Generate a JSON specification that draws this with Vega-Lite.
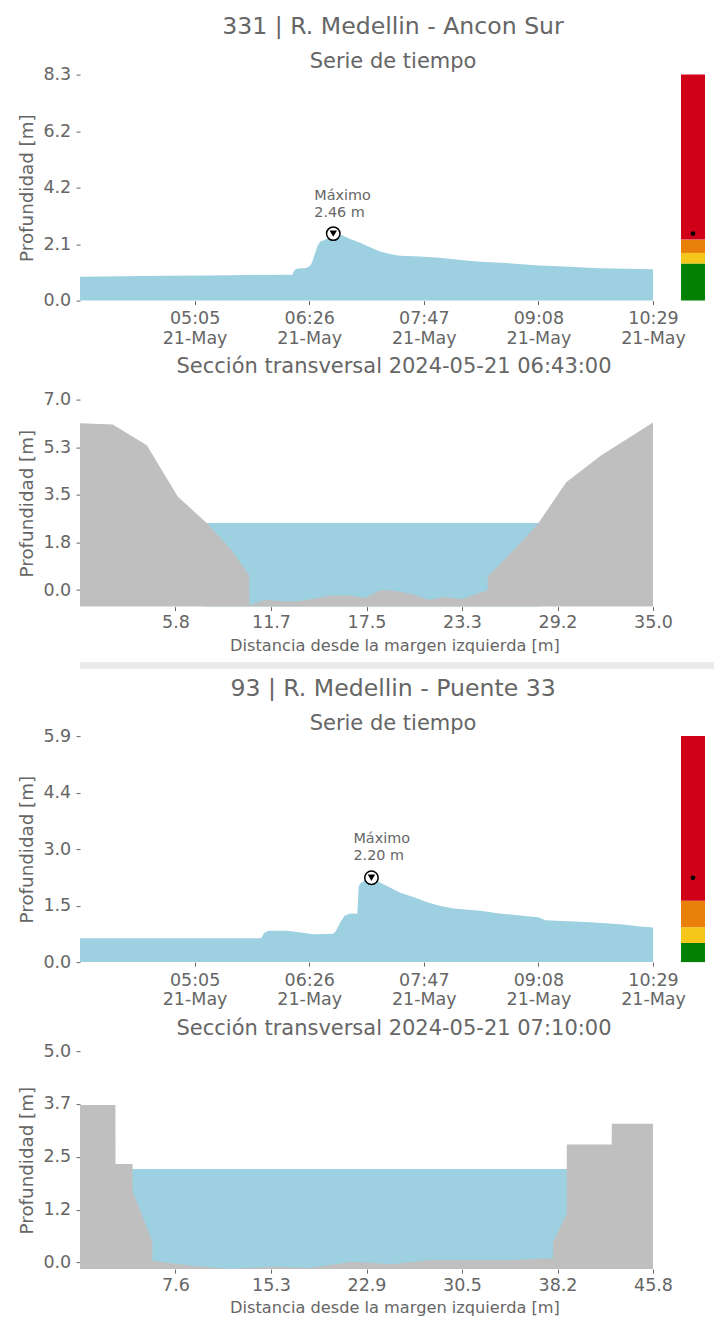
{
  "$schema": "https://vega.github.io/schema/vega-lite/v6.json",
  "background": "white",
  "padding": {"left": 17, "top": 14.6, "right": 0, "bottom": 0},
  "config": {
    "font": "DejaVu Sans",
    "view": {"stroke": null},
    "axis": {"domain": false, "grid": false, "tickColor": "#666", "tickSize": 4, "labelColor": "#666", "labelFontSize": 17.5, "labelFont": "DejaVu Sans", "titleFont": "DejaVu Sans", "titleColor": "#666", "titleFontWeight": "normal", "labelFlush": false, "labelOverlap": false, "labelBound": false},
    "axisY": {"labelPadding": 5.3, "titleFontSize": 18.3, "titlePadding": 6.8},
    "axisX": {"labelPadding": 5, "titleFontSize": 16.2},
    "title": {"color": "#666", "fontWeight": "normal", "font": "DejaVu Sans", "subtitleColor": "#666", "subtitleFont": "DejaVu Sans"}
  },
  "datasets": {
    "ts1": [
      {"t": "2024-05-21T03:44:00Z", "d": 0.88}, {"t": "2024-05-21T04:15:00Z", "d": 0.89}, {"t": "2024-05-21T04:45:00Z", "d": 0.91},
      {"t": "2024-05-21T05:15:00Z", "d": 0.92}, {"t": "2024-05-21T05:45:00Z", "d": 0.94}, {"t": "2024-05-21T06:14:00Z", "d": 0.95},
      {"t": "2024-05-21T06:16:00Z", "d": 1.14}, {"t": "2024-05-21T06:18:00Z", "d": 1.18}, {"t": "2024-05-21T06:24:00Z", "d": 1.20},
      {"t": "2024-05-21T06:27:00Z", "d": 1.30}, {"t": "2024-05-21T06:28:00Z", "d": 1.41}, {"t": "2024-05-21T06:30:00Z", "d": 1.71},
      {"t": "2024-05-21T06:32:00Z", "d": 2.02}, {"t": "2024-05-21T06:34:00Z", "d": 2.18}, {"t": "2024-05-21T06:37:00Z", "d": 2.23},
      {"t": "2024-05-21T06:41:00Z", "d": 2.33}, {"t": "2024-05-21T06:43:00Z", "d": 2.46}, {"t": "2024-05-21T06:48:00Z", "d": 2.43},
      {"t": "2024-05-21T06:55:00Z", "d": 2.26}, {"t": "2024-05-21T07:02:00Z", "d": 2.12}, {"t": "2024-05-21T07:09:00Z", "d": 1.96},
      {"t": "2024-05-21T07:16:00Z", "d": 1.80}, {"t": "2024-05-21T07:23:00Z", "d": 1.71}, {"t": "2024-05-21T07:30:00Z", "d": 1.65},
      {"t": "2024-05-21T07:44:00Z", "d": 1.62}, {"t": "2024-05-21T07:58:00Z", "d": 1.57}, {"t": "2024-05-21T08:13:00Z", "d": 1.49},
      {"t": "2024-05-21T08:27:00Z", "d": 1.43}, {"t": "2024-05-21T08:45:00Z", "d": 1.38}, {"t": "2024-05-21T09:09:00Z", "d": 1.29},
      {"t": "2024-05-21T09:30:00Z", "d": 1.24}, {"t": "2024-05-21T09:51:00Z", "d": 1.19}, {"t": "2024-05-21T10:10:00Z", "d": 1.17},
      {"t": "2024-05-21T10:29:00Z", "d": 1.15}
    ],
    "ts2": [
      {"t": "2024-05-21T03:44:00Z", "d": 0.62}, {"t": "2024-05-21T04:30:00Z", "d": 0.62}, {"t": "2024-05-21T05:15:00Z", "d": 0.62},
      {"t": "2024-05-21T05:52:00Z", "d": 0.62}, {"t": "2024-05-21T05:54:00Z", "d": 0.75}, {"t": "2024-05-21T05:57:00Z", "d": 0.82},
      {"t": "2024-05-21T06:10:00Z", "d": 0.82}, {"t": "2024-05-21T06:19:00Z", "d": 0.78}, {"t": "2024-05-21T06:29:00Z", "d": 0.73},
      {"t": "2024-05-21T06:43:00Z", "d": 0.74}, {"t": "2024-05-21T06:45:00Z", "d": 0.82}, {"t": "2024-05-21T06:48:00Z", "d": 1.04},
      {"t": "2024-05-21T06:51:00Z", "d": 1.21}, {"t": "2024-05-21T06:55:00Z", "d": 1.27}, {"t": "2024-05-21T07:00:00Z", "d": 1.26},
      {"t": "2024-05-21T07:01:00Z", "d": 1.99}, {"t": "2024-05-21T07:03:00Z", "d": 2.08}, {"t": "2024-05-21T07:10:00Z", "d": 2.20},
      {"t": "2024-05-21T07:16:00Z", "d": 2.08}, {"t": "2024-05-21T07:23:00Z", "d": 1.95}, {"t": "2024-05-21T07:30:00Z", "d": 1.82},
      {"t": "2024-05-21T07:40:00Z", "d": 1.69}, {"t": "2024-05-21T07:49:00Z", "d": 1.57}, {"t": "2024-05-21T07:58:00Z", "d": 1.47},
      {"t": "2024-05-21T08:08:00Z", "d": 1.40}, {"t": "2024-05-21T08:27:00Z", "d": 1.34}, {"t": "2024-05-21T08:40:00Z", "d": 1.27},
      {"t": "2024-05-21T09:00:00Z", "d": 1.20}, {"t": "2024-05-21T09:08:00Z", "d": 1.17}, {"t": "2024-05-21T09:13:00Z", "d": 1.09},
      {"t": "2024-05-21T09:45:00Z", "d": 1.04}, {"t": "2024-05-21T10:08:00Z", "d": 0.98}, {"t": "2024-05-21T10:20:00Z", "d": 0.93},
      {"t": "2024-05-21T10:29:00Z", "d": 0.90}
    ],
    "mx1": [{"t": "2024-05-21T06:43:00Z", "d": 2.46, "label": "Máximo\n2.46 m"}],
    "mx2": [{"t": "2024-05-21T07:10:00Z", "d": 2.20, "label": "Máximo\n2.20 m"}],
    "lv1": [
      {"nivel": "verde", "lo": 0, "hi": 1.36}, {"nivel": "amarillo", "lo": 1.36, "hi": 1.75},
      {"nivel": "naranja", "lo": 1.75, "hi": 2.24}, {"nivel": "rojo", "lo": 2.24, "hi": 8.3}
    ],
    "lv2": [
      {"nivel": "verde", "lo": 0, "hi": 0.50}, {"nivel": "amarillo", "lo": 0.50, "hi": 0.91},
      {"nivel": "naranja", "lo": 0.91, "hi": 1.60}, {"nivel": "rojo", "lo": 1.60, "hi": 5.9}
    ],
    "xg1": [
      {"x": 0, "y": 6.13}, {"x": 2.0, "y": 6.08}, {"x": 4.08, "y": 5.32}, {"x": 5.97, "y": 3.44}, {"x": 7.8, "y": 2.43},
      {"x": 9.2, "y": 1.51}, {"x": 10.34, "y": 0.54}, {"x": 10.35, "y": -0.56}, {"x": 11.32, "y": -0.36}, {"x": 12.3, "y": -0.41},
      {"x": 13.3, "y": -0.41}, {"x": 15.4, "y": -0.2}, {"x": 16.5, "y": -0.2}, {"x": 17.4, "y": -0.29}, {"x": 18.4, "y": 0.01},
      {"x": 19.4, "y": -0.05}, {"x": 20.3, "y": -0.16}, {"x": 21.3, "y": -0.36}, {"x": 22.3, "y": -0.26}, {"x": 23.3, "y": -0.34},
      {"x": 24.9, "y": -0.01}, {"x": 24.91, "y": 0.5}, {"x": 26.5, "y": 1.48}, {"x": 27.96, "y": 2.43}, {"x": 29.7, "y": 3.96},
      {"x": 31.8, "y": 4.94}, {"x": 35.0, "y": 6.16}
    ],
    "xw1": [{"x": 7.6, "y": 2.46}, {"x": 28.1, "y": 2.46}],
    "xg2": [
      {"x": 0, "y": 3.71}, {"x": 2.83, "y": 3.71}, {"x": 2.84, "y": 2.32}, {"x": 4.2, "y": 2.32}, {"x": 4.21, "y": 1.67},
      {"x": 5.78, "y": 0.49}, {"x": 5.79, "y": 0.04}, {"x": 9.1, "y": -0.08}, {"x": 12.05, "y": -0.15}, {"x": 15.4, "y": -0.1},
      {"x": 18.3, "y": -0.13}, {"x": 21.8, "y": 0.02}, {"x": 24.96, "y": -0.04}, {"x": 28.1, "y": 0.06}, {"x": 31.2, "y": 0.06},
      {"x": 34.6, "y": 0.06}, {"x": 37.8, "y": 0.1}, {"x": 37.81, "y": 0.48}, {"x": 38.9, "y": 1.15}, {"x": 38.91, "y": 2.78},
      {"x": 42.5, "y": 2.78}, {"x": 42.51, "y": 3.27}, {"x": 45.8, "y": 3.27}
    ],
    "xw2": [{"x": 4.0, "y": 2.20}, {"x": 39.0, "y": 2.20}]
  },
  "align": "none",
  "spacing": 6.5,
  "vconcat": [
    {
      "align": "none",
      "spacing": 8.3,
      "vconcat": [
        {
          "spacing": 9,
          "vconcat": [
            {
              "title": {"text": "331 | R. Medellin - Ancon Sur", "subtitle": "Serie de tiempo", "fontSize": 23.6, "subtitleFontSize": 21, "anchor": "middle", "offset": -6.5, "subtitlePadding": 12, "dx": 32},
              "spacing": 28,
              "bounds": "flush",
              "hconcat": [
                {
                  "width": 573, "height": 226,
                  "layer": [
                    {
                      "data": {"name": "ts1"},
                      "mark": {"type": "area", "color": "#9dd0e0", "opacity": 1},
                      "encoding": {
                        "x": {"field": "t", "type": "temporal", "title": null,
                          "scale": {"type": "utc", "domain": [{"year": 2024, "month": 5, "date": 21, "hours": 3, "minutes": 44, "utc": true}, {"year": 2024, "month": 5, "date": 21, "hours": 10, "minutes": 29, "utc": true}]},
                          "axis": {"values": [
                            {"year": 2024, "month": 5, "date": 21, "hours": 5, "minutes": 5, "utc": true},
                            {"year": 2024, "month": 5, "date": 21, "hours": 6, "minutes": 26, "utc": true},
                            {"year": 2024, "month": 5, "date": 21, "hours": 7, "minutes": 47, "utc": true},
                            {"year": 2024, "month": 5, "date": 21, "hours": 9, "minutes": 8, "utc": true},
                            {"year": 2024, "month": 5, "date": 21, "hours": 10, "minutes": 29, "utc": true}],
                            "labelExpr": "[utcFormat(datum.value, '%H:%M'), utcFormat(datum.value, '%d-%b')]", "labelLineHeight": 19.5}},
                        "y": {"field": "d", "type": "quantitative", "title": "Profundidad [m]", "scale": {"domain": [0, 8.3], "nice": false},
                          "axis": {"values": [0, 2.075, 4.15, 6.225, 8.3], "format": ".1f"}}
                      }
                    },
                    {
                      "data": {"name": "mx1"},
                      "mark": {"type": "point", "shape": "circle", "filled": true, "fill": "white", "stroke": "black", "strokeWidth": 1.5, "size": 180, "opacity": 1},
                      "encoding": {"x": {"field": "t", "type": "temporal"}, "y": {"field": "d", "type": "quantitative"}}
                    },
                    {
                      "data": {"name": "mx1"},
                      "mark": {"type": "point", "shape": "triangle-down", "filled": true, "color": "black", "size": 55, "opacity": 1},
                      "encoding": {"x": {"field": "t", "type": "temporal"}, "y": {"field": "d", "type": "quantitative"}}
                    },
                    {
                      "data": {"name": "mx1"},
                      "mark": {"type": "text", "align": "left", "baseline": "bottom", "dx": -19, "dy": -30.5, "fontSize": 14.4, "color": "#666", "lineBreak": "\n", "lineHeight": 17},
                      "encoding": {"x": {"field": "t", "type": "temporal"}, "y": {"field": "d", "type": "quantitative"}, "text": {"field": "label"}}
                    }
                  ]
                },
                {
                  "width": 24, "height": 226,
                  "layer": [
                    {
                      "data": {"name": "lv1"},
                      "mark": {"type": "rect"},
                      "encoding": {
                        "y": {"field": "lo", "type": "quantitative", "scale": {"domain": [0, 8.3], "nice": false}, "axis": null},
                        "y2": {"field": "hi"},
                        "color": {"field": "nivel", "type": "nominal", "legend": null, "scale": {"domain": ["verde", "amarillo", "naranja", "rojo"], "range": ["#028002", "#f5c71a", "#e8800a", "#d10019"]}}
                      }
                    },
                    {
                      "data": {"name": "mx1"},
                      "mark": {"type": "point", "shape": "circle", "filled": true, "color": "black", "size": 22, "opacity": 1},
                      "encoding": {"y": {"field": "d", "type": "quantitative"}}
                    }
                  ]
                }
              ]
            },
            {
              "title": {"text": "Sección transversal 2024-05-21 06:43:00", "fontSize": 21, "offset": 13.3, "dx": 27.5, "anchor": "middle"},
              "width": 573, "height": 207,
              "layer": [
                {
                  "data": {"name": "xw1"},
                  "mark": {"type": "area", "color": "#9dd0e0", "opacity": 1},
                  "encoding": {
                    "x": {"field": "x", "type": "quantitative", "title": "Distancia desde la margen izquierda [m]", "scale": {"domain": [0, 35], "nice": false},
                      "axis": {"values": [5.8333, 11.6667, 17.5, 23.3333, 29.1667, 35], "format": ".1f", "labelPadding": 3.2, "titlePadding": 5.8, "titleX": 314.5}},
                    "y": {"field": "y", "type": "quantitative", "title": "Profundidad [m]", "scale": {"domain": [-0.61, 7.0], "nice": false},
                      "axis": {"values": [0, 1.75, 3.5, 5.25, 7.0], "format": ".1f"}},
                    "y2": {"datum": -0.61}
                  }
                },
                {
                  "data": {"name": "xg1"},
                  "mark": {"type": "area", "color": "#bfbfbf", "opacity": 1},
                  "encoding": {
                    "x": {"field": "x", "type": "quantitative"},
                    "y": {"field": "y", "type": "quantitative"},
                    "y2": {"datum": -0.61}
                  }
                }
              ]
            }
          ]
        },
        {
          "width": 634, "height": 7,
          "view": {"fill": "#ebebeb", "stroke": null},
          "data": {"values": [{}]},
          "mark": {"type": "rect", "color": "#ebebeb"},
          "encoding": {}
        }
      ]
    },
    {
      "spacing": 9,
      "vconcat": [
        {
          "title": {"text": "93 | R. Medellin - Puente 33", "subtitle": "Serie de tiempo", "fontSize": 23.6, "subtitleFontSize": 21, "anchor": "middle", "offset": -6.5, "subtitlePadding": 12, "dx": 32},
          "spacing": 28,
          "bounds": "flush",
          "hconcat": [
            {
              "width": 573, "height": 226,
              "layer": [
                {
                  "data": {"name": "ts2"},
                  "mark": {"type": "area", "color": "#9dd0e0", "opacity": 1},
                  "encoding": {
                    "x": {"field": "t", "type": "temporal", "title": null,
                      "scale": {"type": "utc", "domain": [{"year": 2024, "month": 5, "date": 21, "hours": 3, "minutes": 44, "utc": true}, {"year": 2024, "month": 5, "date": 21, "hours": 10, "minutes": 29, "utc": true}]},
                      "axis": {"values": [
                        {"year": 2024, "month": 5, "date": 21, "hours": 5, "minutes": 5, "utc": true},
                        {"year": 2024, "month": 5, "date": 21, "hours": 6, "minutes": 26, "utc": true},
                        {"year": 2024, "month": 5, "date": 21, "hours": 7, "minutes": 47, "utc": true},
                        {"year": 2024, "month": 5, "date": 21, "hours": 9, "minutes": 8, "utc": true},
                        {"year": 2024, "month": 5, "date": 21, "hours": 10, "minutes": 29, "utc": true}],
                        "labelExpr": "[utcFormat(datum.value, '%H:%M'), utcFormat(datum.value, '%d-%b')]", "labelLineHeight": 19.5}},
                    "y": {"field": "d", "type": "quantitative", "title": "Profundidad [m]", "scale": {"domain": [0, 5.9], "nice": false},
                      "axis": {"values": [0, 1.475, 2.95, 4.425, 5.9], "format": ".1f"}}
                  }
                },
                {
                  "data": {"name": "mx2"},
                  "mark": {"type": "point", "shape": "circle", "filled": true, "fill": "white", "stroke": "black", "strokeWidth": 1.5, "size": 180, "opacity": 1},
                  "encoding": {"x": {"field": "t", "type": "temporal"}, "y": {"field": "d", "type": "quantitative"}}
                },
                {
                  "data": {"name": "mx2"},
                  "mark": {"type": "point", "shape": "triangle-down", "filled": true, "color": "black", "size": 55, "opacity": 1},
                  "encoding": {"x": {"field": "t", "type": "temporal"}, "y": {"field": "d", "type": "quantitative"}}
                },
                {
                  "data": {"name": "mx2"},
                  "mark": {"type": "text", "align": "left", "baseline": "bottom", "dx": -18, "dy": -31.5, "fontSize": 14.4, "color": "#666", "lineBreak": "\n", "lineHeight": 17},
                  "encoding": {"x": {"field": "t", "type": "temporal"}, "y": {"field": "d", "type": "quantitative"}, "text": {"field": "label"}}
                }
              ]
            },
            {
              "width": 24, "height": 226,
              "layer": [
                {
                  "data": {"name": "lv2"},
                  "mark": {"type": "rect"},
                  "encoding": {
                    "y": {"field": "lo", "type": "quantitative", "scale": {"domain": [0, 5.9], "nice": false}, "axis": null},
                    "y2": {"field": "hi"},
                    "color": {"field": "nivel", "type": "nominal", "legend": null, "scale": {"domain": ["verde", "amarillo", "naranja", "rojo"], "range": ["#028002", "#f5c71a", "#e8800a", "#d10019"]}}
                  }
                },
                {
                  "data": {"name": "mx2"},
                  "mark": {"type": "point", "shape": "circle", "filled": true, "color": "black", "size": 22, "opacity": 1},
                  "encoding": {"y": {"field": "d", "type": "quantitative"}}
                }
              ]
            }
          ]
        },
        {
          "title": {"text": "Sección transversal 2024-05-21 07:10:00", "fontSize": 21, "offset": 3.3, "dx": 27.5, "anchor": "middle"},
          "width": 573, "height": 218,
          "layer": [
            {
              "data": {"name": "xw2"},
              "mark": {"type": "area", "color": "#9dd0e0", "opacity": 1},
              "encoding": {
                "x": {"field": "x", "type": "quantitative", "title": "Distancia desde la margen izquierda [m]", "scale": {"domain": [0, 45.8], "nice": false},
                  "axis": {"values": [7.6333, 15.2667, 22.9, 30.5333, 38.1667, 45.8], "format": ".1f", "labelPadding": 3.2, "titlePadding": 5.8, "titleX": 314.5}},
                "y": {"field": "y", "type": "quantitative", "title": "Profundidad [m]", "scale": {"domain": [-0.155, 4.98], "nice": false},
                  "axis": {"values": [0, 1.245, 2.49, 3.735, 4.98], "format": ".1f"}},
                "y2": {"datum": -0.155}
              }
            },
            {
              "data": {"name": "xg2"},
              "mark": {"type": "area", "color": "#bfbfbf", "opacity": 1},
              "encoding": {
                "x": {"field": "x", "type": "quantitative"},
                "y": {"field": "y", "type": "quantitative"},
                "y2": {"datum": -0.155}
              }
            }
          ]
        }
      ]
    }
  ]
}
